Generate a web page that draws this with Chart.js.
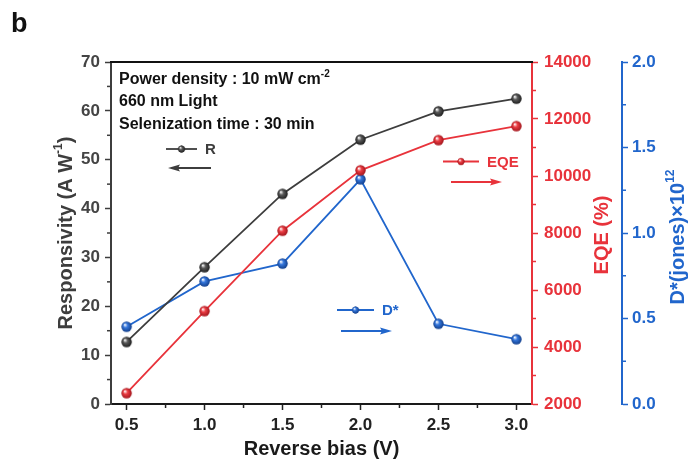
<!DOCTYPE html>
<html>
<head>
<meta charset="utf-8">
<script src="https://cdn.jsdelivr.net/npm/chart.js@4/dist/chart.umd.min.js"></script>
<style>
  html, body { margin: 0; padding: 0; background: #ffffff; }
  canvas { display: block; }
</style>
</head>
<body>
<canvas id="chart" width="697" height="466"></canvas>
<script>
// Reverse bias (V)
const biasV = [0.5, 1.0, 1.5, 2.0, 2.5, 3.0];
// Responsivity (A/W)
const responsivity = [12.7, 28.0, 43.0, 54.1, 59.9, 62.5];
// External quantum efficiency (%)
const eqe = [2380, 5260, 8080, 10200, 11260, 11750];
// Specific detectivity (×10^12 Jones)
const detectivity = [0.452, 0.717, 0.821, 1.314, 0.469, 0.379];

// Tick values for each axis
const xTicks = [0.5, 1.0, 1.5, 2.0, 2.5, 3.0];
const rTicks = [0, 10, 20, 30, 40, 50, 60, 70];
const eqeTicks = [2000, 4000, 6000, 8000, 10000, 12000, 14000];
const dTicks = [0.0, 0.5, 1.0, 1.5, 2.0];

const FONT = "'Liberation Sans', Arial, Helvetica, sans-serif";
const GRAY = '#3d3d3d';
const RED = '#e8333b';
const BLUE = '#2166cc';

// Small shaded sphere used as the marker symbol
function ball(base, dark, r) {
  const s = Math.ceil(r * 2 + 2);
  const c = document.createElement('canvas');
  c.width = c.height = s;
  const g = c.getContext('2d');
  const cx = s / 2;
  const grad = g.createRadialGradient(cx - r * 0.35, cx - r * 0.4, r * 0.05, cx, cx, r);
  grad.addColorStop(0, '#ffffff');
  grad.addColorStop(0.4, base);
  grad.addColorStop(1, dark);
  g.fillStyle = grad;
  g.beginPath();
  g.arc(cx, cx, r, 0, Math.PI * 2);
  g.fill();
  return c;
}

const grayBall = ball('#5a5a5a', '#1e1e1e', 5.2);
const redBall = ball('#ec3e44', '#a3161d', 5.2);
const blueBall = ball('#3577dc', '#123f8c', 5.2);

function pts(ys) { return biasV.map((x, i) => ({ x: x, y: ys[i] })); }

// Draw text with an optional superscript run: parts = [[text, isSup], ...]
function richWidth(ctx, parts, size) {
  let w = 0;
  parts.forEach(([t, sup]) => {
    ctx.font = 'bold ' + (sup ? Math.round(size * 0.62) : size) + 'px ' + FONT;
    w += ctx.measureText(t).width;
  });
  return w;
}
function drawRich(ctx, parts, x, y, size, color) {
  ctx.fillStyle = color;
  ctx.textBaseline = 'middle';
  ctx.textAlign = 'left';
  let cx = x;
  parts.forEach(([t, sup]) => {
    ctx.font = 'bold ' + (sup ? Math.round(size * 0.62) : size) + 'px ' + FONT;
    ctx.fillText(t, cx, sup ? y - size * 0.38 : y);
    cx += ctx.measureText(t).width;
  });
}
function drawRichRotated(ctx, parts, cx, cy, size, color) {
  ctx.save();
  ctx.translate(cx, cy);
  ctx.rotate(-Math.PI / 2);
  const w = richWidth(ctx, parts, size);
  drawRich(ctx, parts, -w / 2, 0, size, color);
  ctx.restore();
}

function arrow(ctx, x0, x1, y, color) {
  const dir = Math.sign(x1 - x0);
  ctx.save();
  ctx.strokeStyle = color;
  ctx.fillStyle = color;
  ctx.lineWidth = 2;
  ctx.beginPath();
  ctx.moveTo(x0, y);
  ctx.lineTo(x1 - dir * 8, y);
  ctx.stroke();
  ctx.beginPath();
  ctx.moveTo(x1, y);
  ctx.lineTo(x1 - dir * 12, y - 3.5);
  ctx.lineTo(x1 - dir * 10, y);
  ctx.lineTo(x1 - dir * 12, y + 3.5);
  ctx.closePath();
  ctx.fill();
  ctx.restore();
}

function legendItem(ctx, x0, x1, y, color, marker, label) {
  ctx.save();
  ctx.strokeStyle = color;
  ctx.lineWidth = 1.8;
  ctx.beginPath();
  ctx.moveTo(x0, y);
  ctx.lineTo(x1, y);
  ctx.stroke();
  const m = (x0 + x1) / 2;
  ctx.drawImage(marker, m - 4.5, y - 4.5, 9, 9);
  ctx.fillStyle = color;
  ctx.font = 'bold 15px ' + FONT;
  ctx.textBaseline = 'middle';
  ctx.textAlign = 'left';
  ctx.fillText(label, x1 + 8, y + 1);
  ctx.restore();
}

// Minor ticks halfway between major ticks, outward from each axis
const minorTicks = {
  id: 'minorTicks',
  afterDraw(chart) {
    const ctx = chart.ctx;
    const s = chart.scales;
    ctx.save();
    ctx.lineWidth = 1.5;
    // x axis
    ctx.strokeStyle = '#222';
    for (let i = 0; i < xTicks.length - 1; i++) {
      const px = s.x.getPixelForValue((xTicks[i] + xTicks[i + 1]) / 2);
      ctx.beginPath(); ctx.moveTo(px, s.x.top); ctx.lineTo(px, s.x.top + 4); ctx.stroke();
    }
    // left axis
    ctx.strokeStyle = GRAY;
    for (let i = 0; i < rTicks.length - 1; i++) {
      const py = s.y.getPixelForValue((rTicks[i] + rTicks[i + 1]) / 2);
      ctx.beginPath(); ctx.moveTo(s.y.right, py); ctx.lineTo(s.y.right - 4, py); ctx.stroke();
    }
    // EQE axis
    ctx.strokeStyle = RED;
    for (let i = 0; i < eqeTicks.length - 1; i++) {
      const py = s.yEQE.getPixelForValue((eqeTicks[i] + eqeTicks[i + 1]) / 2);
      ctx.beginPath(); ctx.moveTo(s.yEQE.left, py); ctx.lineTo(s.yEQE.left + 4, py); ctx.stroke();
    }
    // D* axis
    ctx.strokeStyle = BLUE;
    for (let i = 0; i < dTicks.length - 1; i++) {
      const py = s.yD.getPixelForValue((dTicks[i] + dTicks[i + 1]) / 2);
      ctx.beginPath(); ctx.moveTo(s.yD.left, py); ctx.lineTo(s.yD.left + 4, py); ctx.stroke();
    }
    // top frame line
    const a = chart.chartArea;
    ctx.strokeStyle = '#111';
    ctx.lineWidth = 2;
    ctx.beginPath(); ctx.moveTo(a.left - 1, a.top); ctx.lineTo(a.right + 1, a.top); ctx.stroke();
    ctx.restore();
  }
};

// Axis titles, panel letter, measurement notes and direction legends
const annotations = {
  id: 'annotations',
  afterDraw(chart) {
    const ctx = chart.ctx;
    const a = chart.chartArea;
    const midY = (a.top + a.bottom) / 2;

    ctx.save();
    ctx.fillStyle = '#111';
    ctx.font = 'bold 27px ' + FONT;
    ctx.textBaseline = 'alphabetic';
    ctx.textAlign = 'left';
    ctx.fillText('b', 11, 32);

    ctx.font = 'bold 20px ' + FONT;
    ctx.textAlign = 'center';
    ctx.textBaseline = 'middle';
    ctx.fillStyle = '#1a1a1a';
    ctx.fillText('Reverse bias (V)', (a.left + a.right) / 2, 449);
    ctx.restore();

    drawRichRotated(ctx, [['Responsivity (A W', false], ['-1', true], [')', false]], 66, midY, 20, GRAY);
    drawRichRotated(ctx, [['EQE (%)', false]], 602, midY + 2, 20, RED);
    drawRichRotated(ctx, [['D*(jones)\u00d710', false], ['12', true]], 678, midY + 4, 20, BLUE);

    drawRich(ctx, [['Power density : 10 mW cm', false], ['-2', true]], a.left + 8, 80, 16, '#111');
    drawRich(ctx, [['660 nm Light', false]], a.left + 8, 102, 16, '#111');
    drawRich(ctx, [['Selenization time : 30 min', false]], a.left + 8, 125, 16, '#111');

    legendItem(ctx, 166, 197, 149, GRAY, grayBall, 'R');
    arrow(ctx, 211, 168, 168, GRAY);
    legendItem(ctx, 443, 479, 161.5, RED, redBall, 'EQE');
    arrow(ctx, 451, 502, 182, RED);
    legendItem(ctx, 337, 374, 310, BLUE, blueBall, 'D*');
    arrow(ctx, 341, 392, 331, BLUE);
  }
};

function axisTicks(values) {
  return function (scale) { scale.ticks = values.map(v => ({ value: v })); };
}

const tickFont = { family: FONT, weight: 'bold', size: 17 };

new Chart(document.getElementById('chart'), {
  type: 'line',
  data: {
    datasets: [
      {
        label: 'R', data: pts(responsivity), yAxisID: 'y',
        borderColor: GRAY, borderWidth: 1.8, pointStyle: grayBall, pointRadius: 5, tension: 0
      },
      {
        label: 'EQE', data: pts(eqe), yAxisID: 'yEQE',
        borderColor: RED, borderWidth: 1.8, pointStyle: redBall, pointRadius: 5, tension: 0
      },
      {
        label: 'D*', data: pts(detectivity), yAxisID: 'yD',
        borderColor: BLUE, borderWidth: 1.8, pointStyle: blueBall, pointRadius: 5, tension: 0
      }
    ]
  },
  options: {
    responsive: false,
    animation: false,
    events: [],
    layout: { padding: { top: 62, left: 0, right: 0, bottom: 0 } },
    plugins: { legend: { display: false }, tooltip: { enabled: false }, title: { display: false } },
    scales: {
      x: {
        type: 'linear', position: 'bottom', min: 0.4, max: 3.1,
        afterBuildTicks: axisTicks(xTicks),
        afterFit(s) { s.height = 62; },
        grid: { drawOnChartArea: false, drawTicks: true, tickLength: 6, tickWidth: 1.5, tickColor: '#222' },
        border: { color: '#1a1a1a', width: 2 },
        ticks: { font: tickFont, color: '#222', padding: 5, maxRotation: 0, callback: v => v.toFixed(1) }
      },
      y: {
        type: 'linear', position: 'left', min: 0, max: 70,
        afterBuildTicks: axisTicks(rTicks),
        afterFit(s) { s.width = 111; },
        grid: { drawOnChartArea: false, drawTicks: true, tickLength: 6, tickWidth: 1.5, tickColor: GRAY },
        border: { color: GRAY, width: 2 },
        ticks: { font: tickFont, color: '#444', padding: 5, callback: v => String(v) }
      },
      yEQE: {
        type: 'linear', position: 'right', min: 2000, max: 14000,
        afterBuildTicks: axisTicks(eqeTicks),
        afterFit(s) { s.width = 90; },
        grid: { drawOnChartArea: false, drawTicks: true, tickLength: 6, tickWidth: 1.5, tickColor: RED },
        border: { color: RED, width: 2 },
        ticks: { font: tickFont, color: RED, padding: 6, callback: v => String(v) }
      },
      yD: {
        type: 'linear', position: 'right', min: 0, max: 2,
        afterBuildTicks: axisTicks(dTicks),
        afterFit(s) { s.width = 75; },
        grid: { drawOnChartArea: false, drawTicks: true, tickLength: 6, tickWidth: 1.5, tickColor: BLUE },
        border: { color: BLUE, width: 2 },
        ticks: { font: tickFont, color: BLUE, padding: 4, callback: v => v.toFixed(1) }
      }
    }
  },
  plugins: [minorTicks, annotations]
});
</script>
</body>
</html>
